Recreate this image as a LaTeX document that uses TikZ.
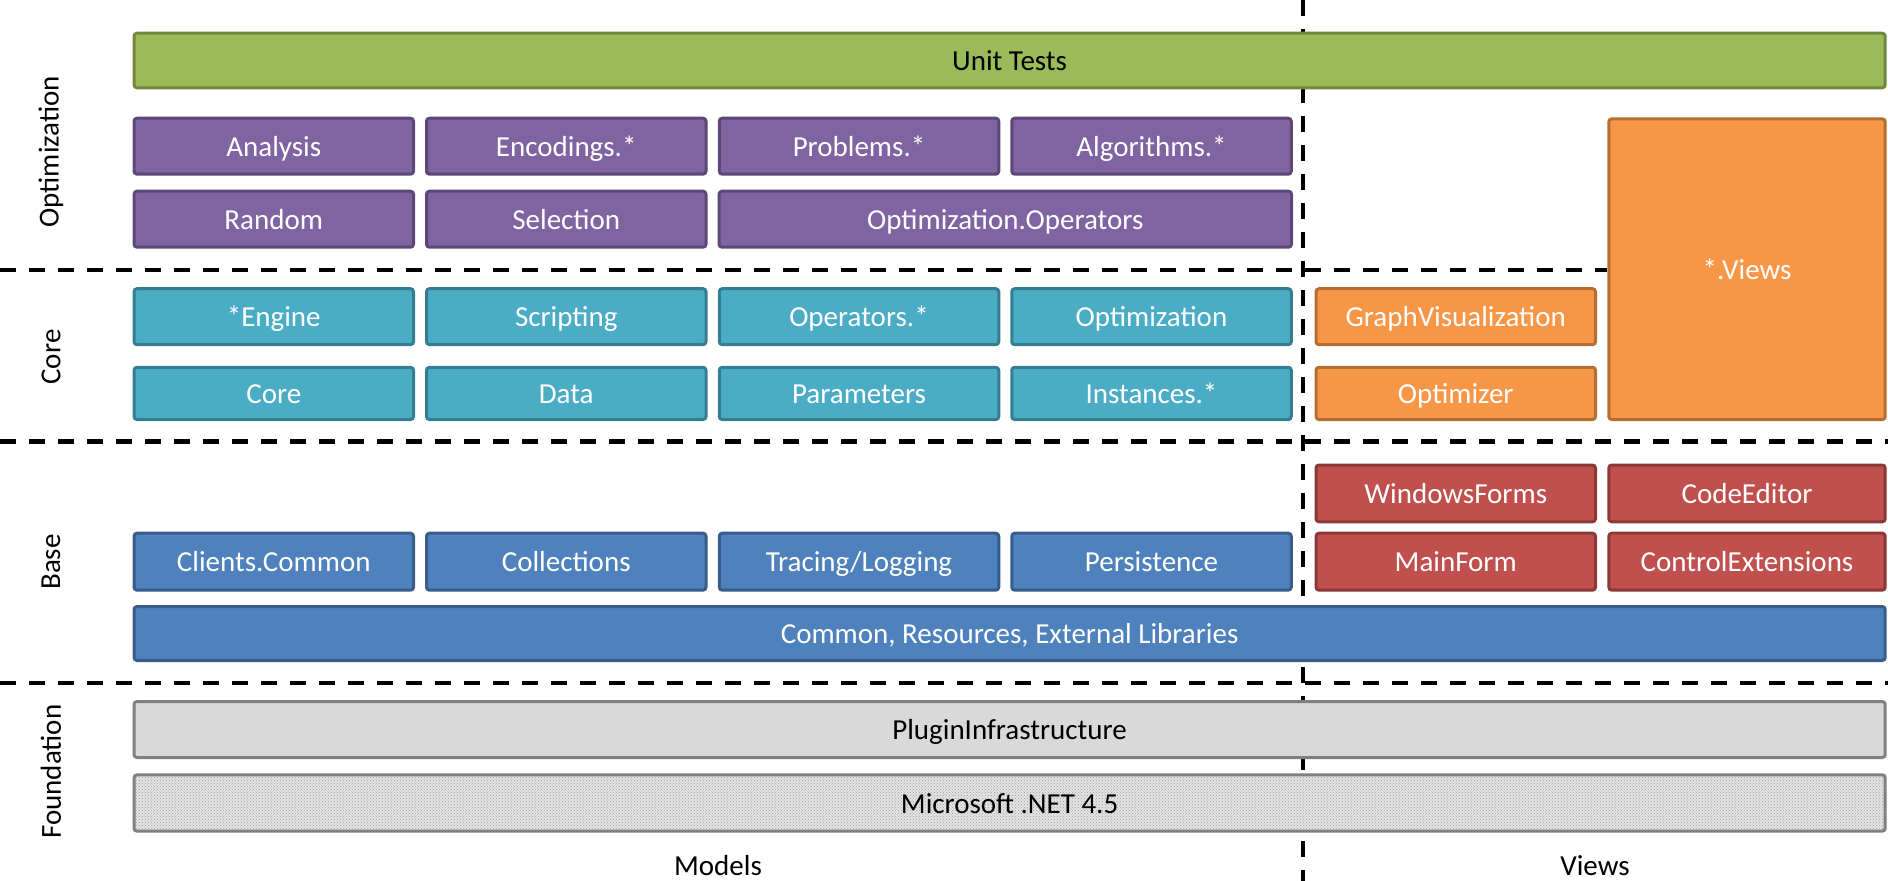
\documentclass[tikz,border=0pt]{standalone}
\usepackage{fontspec}
\setmainfont{Carlito}
\usetikzlibrary{patterns}

\definecolor{testgreen}{HTML}{9BBB59}
\definecolor{testgreenline}{HTML}{71893F}
\definecolor{optpurple}{HTML}{8064A2}
\definecolor{optpurpleline}{HTML}{5C4776}
\definecolor{coreteal}{HTML}{4BACC6}
\definecolor{coretealline}{HTML}{357D91}
\definecolor{vieworange}{HTML}{F79646}
\definecolor{vieworangeline}{HTML}{B66D31}
\definecolor{formred}{HTML}{C0504D}
\definecolor{formredline}{HTML}{8C3836}
\definecolor{baseblue}{HTML}{4F81BD}
\definecolor{baseblueline}{HTML}{385D8A}
\definecolor{plugingray}{HTML}{D9D9D9}
\definecolor{foundline}{HTML}{808080}

\tikzset{
	module/.style={draw, line width=3pt, rounded corners=3pt, inner sep=0pt,
		minimum width=279.5pt, minimum height=56pt, text=white,
		text height=26pt, text depth=6pt,
		font=\fontsize{29}{35}\selectfont},
	wide/.style={minimum width=1751.2pt},
	testbox/.style={module, fill=testgreen, draw=testgreenline, text=black},
	optbox/.style={module, fill=optpurple, draw=optpurpleline},
	corebox/.style={module, fill=coreteal, draw=coretealline},
	viewbox/.style={module, fill=vieworange, draw=vieworangeline},
	formbox/.style={module, fill=formred, draw=formredline},
	basebox/.style={module, fill=baseblue, draw=baseblueline},
	layerline/.style={line width=4.7pt, dash pattern=on 16pt off 13pt},
	sidelabel/.style={rotate=90, inner sep=0pt, font=\fontsize{29}{35}\selectfont},
	columnlabel/.style={inner sep=0pt, text height=26pt, text depth=6pt,
		font=\fontsize{29}{35}\selectfont}
}

\begin{document}
\begin{tikzpicture}[x=1pt, y=-1pt]
		\useasboundingbox (0, 0) rectangle (1888, 881);
		
		%%%%% DIVIDERS %%%%%
		\draw[layerline] (1303, 0) -- (1303, 881);
		\draw[layerline] (0, 270) -- (1607, 270);
		\draw[layerline] (0, 441.2) -- (1888, 441.2);
		\draw[layerline] (0, 683) -- (1888, 683);
		
		%%%%% OPTIMIZATION %%%%%
		\node[testbox, wide, minimum height=54.6pt] (unittests) at (1009.6, 60.5) {Unit Tests};
		
		\node[optbox] (analysis) at (273.75, 146.2) {Analysis};
		\node[optbox] (encodings) at (566.25, 146.2) {Encodings.*};
		\node[optbox] (problems) at (859, 146.2) {Problems.*};
		\node[optbox] (algorithms) at (1151.5, 146.2) {Algorithms.*};
		\node[optbox] (random) at (273.75, 219.2) {Random};
		\node[optbox] (selection) at (566.25, 219.2) {Selection};
		\node[optbox, minimum width=572.5pt] (optoperators) at (1005.25, 219.2) {Optimization.Operators};
		
		\node[viewbox, minimum width=276.4pt, minimum height=300.7pt] (views) at (1747, 269.2) {*.Views};
		
		%%%%% CORE %%%%%
		\node[corebox] (engine) at (273.75, 316.7) {*Engine};
		\node[corebox] (scripting) at (566.25, 316.7) {Scripting};
		\node[corebox] (operators) at (859, 316.7) {Operators.*};
		\node[corebox] (optimization) at (1151.5, 316.7) {Optimization};
		\node[viewbox] (graphvis) at (1455.75, 316.7) {GraphVisualization};
		
		\node[corebox, minimum height=52.3pt] (core) at (273.75, 393.4) {Core};
		\node[corebox, minimum height=52.3pt] (data) at (566.25, 393.4) {Data};
		\node[corebox, minimum height=52.3pt] (parameters) at (859, 393.4) {Parameters};
		\node[corebox, minimum height=52.3pt] (instances) at (1151.5, 393.4) {Instances.*};
		\node[viewbox, minimum height=52.3pt] (optimizer) at (1455.75, 393.4) {Optimizer};
		
		%%%%% BASE %%%%%
		\node[formbox, minimum height=56.8pt] (windowsforms) at (1455.75, 493.4) {WindowsForms};
		\node[formbox, minimum width=276.4pt, minimum height=56.8pt] (codeeditor) at (1747, 493.4) {CodeEditor};
		
		\node[basebox, minimum height=57pt] (clients) at (273.75, 561.7) {Clients.Common};
		\node[basebox, minimum height=57pt] (collections) at (566.25, 561.7) {Collections};
		\node[basebox, minimum height=57pt] (tracing) at (859, 561.7) {Tracing/Logging};
		\node[basebox, minimum height=57pt] (persistence) at (1151.5, 561.7) {Persistence};
		\node[formbox, minimum height=57pt] (mainform) at (1455.75, 561.7) {MainForm};
		\node[formbox, minimum width=276.4pt, minimum height=57pt] (controlext) at (1747, 561.7) {ControlExtensions};
		
		\node[basebox, wide, minimum height=54pt] (common) at (1009.6, 633.5) {Common, Resources, External Libraries};
		
		%%%%% FOUNDATION %%%%%
		\node[module, wide, fill=plugingray, draw=foundline, text=black] (plugin) at (1009.6, 729.5) {PluginInfrastructure};
		\node[module, wide, draw=foundline, text=black, preaction={fill=gray!22},
			pattern=crosshatch dots, pattern color=gray!75, minimum height=56.4pt] (dotnet) at (1009.6, 803) {};
		\node[columnlabel] (dotnetlabel) at (dotnet.center) {Microsoft .NET 4.5};
		
		%%%%% LABELS %%%%%
		\node[sidelabel] (optlabel) at (51, 151.7) {Optimization};
		\node[sidelabel] (corelabel) at (51, 357) {Core};
		\node[sidelabel] (baselabel) at (51, 562) {Base};
		\node[sidelabel] (foundlabel) at (51, 771.7) {Foundation};
		
		\node[columnlabel] (modelslabel) at (718, 865) {Models};
		\node[columnlabel] (viewslabel) at (1595, 865) {Views};
	\end{tikzpicture}
\end{document}
